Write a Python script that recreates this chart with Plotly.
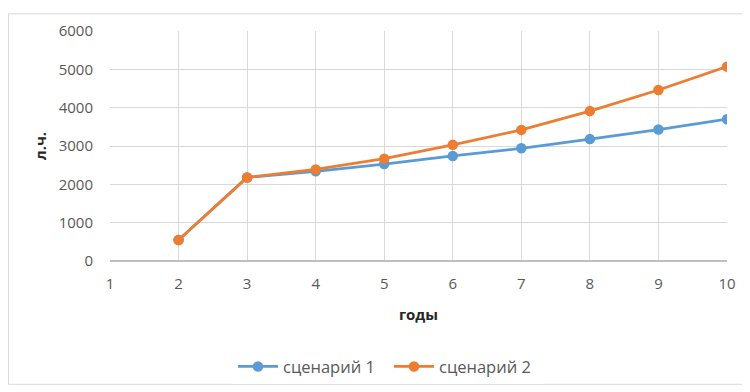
import plotly.graph_objects as go

years = [2, 3, 4, 5, 6, 7, 8, 9, 10]
scenario1 = [550, 2180, 2340, 2530, 2740, 2940, 3180, 3430, 3700]
scenario2 = [550, 2180, 2390, 2670, 3030, 3420, 3910, 4460, 5070]
names = ["сценарий 1", "сценарий 2"]
colors = ["#5b9bd5", "#ed7d31"]

fig = go.Figure()
for name, vals, c in zip(names, [scenario1, scenario2], colors):
    fig.add_trace(go.Scatter(x=years, y=vals, name=name, mode="lines+markers",
                             line=dict(color=c, width=2.75),
                             marker=dict(color=c, size=10.5)))

# page has an 8px body margin; work in screen coordinates and shift
OFF = 8
W, H = 750, 392
sL, sR, sT, sB = 110, 727, 26, 261  # plot area in screen px
L, T = sL - OFF, sT - OFF
R, B = W - (sR - OFF), H - (sB - OFF)
pw, ph = sR - sL, sB - sT
def px(x): return (x - sL) / pw
def py(y): return (sB - y) / ph

fig.add_shape(type="rect", xref="paper", yref="paper",
              x0=px(OFF + 0.5), x1=px(745), y0=py(387), y1=py(OFF + 0.5),
              line=dict(color="#d9d9d9", width=1), layer="below")

font = "Open Sans, Liberation Sans, sans-serif"
fig.update_layout(
    width=W, height=H, margin=dict(l=L, r=R, t=T, b=B),
    paper_bgcolor="white", plot_bgcolor="white",
    font=dict(family=font, color="#595959", size=14),
    xaxis=dict(range=[1, 10], tickmode="linear", tick0=1, dtick=1,
               showgrid=True, gridcolor="#d9d9d9", zeroline=False,
               showline=False, ticks="", ticklen=0, ticklabelstandoff=12,
               tickfont=dict(size=15),
               title=dict(text="<b>годы</b>", font=dict(size=15, color="#262626"), standoff=17)),
    yaxis=dict(range=[0, 6000], tickmode="linear", dtick=1000,
               showgrid=True, gridcolor="#d9d9d9", zeroline=True, zerolinecolor="#bfbfbf",
               showline=False, ticks="", ticklabelstandoff=16,
               tickfont=dict(size=15),
               title=dict(text="<b>л.ч.</b>", font=dict(size=15, color="#262626"), standoff=8)),
    legend=dict(orientation="h", x=px(233), xanchor="left", y=py(369), yanchor="middle",
                font=dict(size=16.5, color="#595959"), itemwidth=40,
                entrywidth=101, entrywidthmode="pixels"),
    showlegend=True,
)
fig.write_html("out.html")
